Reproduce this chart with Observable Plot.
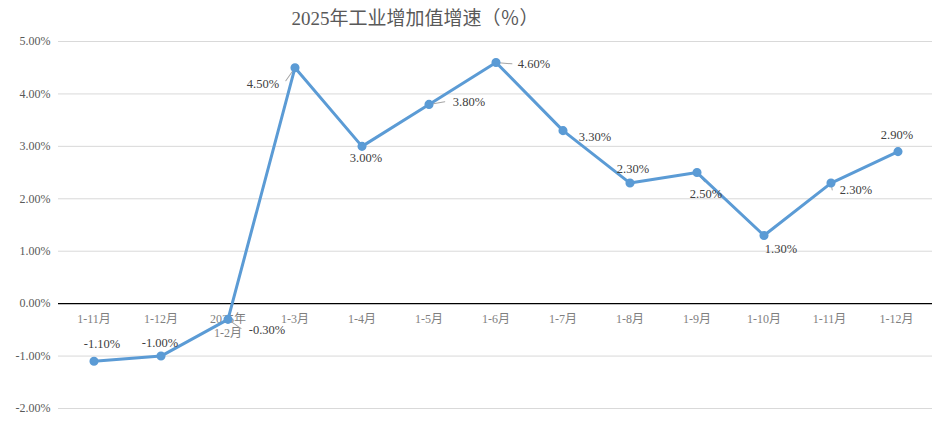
<!DOCTYPE html>
<html>
<head>
<meta charset="utf-8">
<script src="https://cdn.jsdelivr.net/npm/d3@7"></script>
<script src="https://cdn.jsdelivr.net/npm/@observablehq/plot@0.6"></script>
<style>
  body { margin: 0; background: #fff; }
  #wrap { position: relative; width: 932px; }
  #title { height: 30px; line-height: 30px; font-family: "Liberation Serif", "Noto Sans CJK SC", serif; font-size: 19px; color: #595959; position: relative; }
  #title span { position: absolute; left: 415px; transform: translateX(-50%); top: 4px; white-space: nowrap; }
</style>
</head>
<body>
<div id="wrap">
  <div id="title"><span>2025年工业增加值增速（％）</span></div>
  <div id="chart"></div>
</div>
<script>
// ---- data ----
const categories = ["1-11月", "1-12月", "2025年\n1-2月", "1-3月", "1-4月", "1-5月", "1-6月", "1-7月", "1-8月", "1-9月", "1-10月", "1-11月 ", "1-12月 "];
const values = [-1.10, -1.00, -0.30, 4.50, 3.00, 3.80, 4.60, 3.30, 2.30, 2.50, 1.30, 2.30, 2.90];
const yTicks = [-2, -1, 0, 1, 2, 3, 4, 5];

// label placement (style only): [dx, dy] in pixels
const labelNudge = [[8,-17],[-1,-13],[39,11],[-32,16],[4,12],[40,-2],[38,2],[32,6],[3,-14],[9,21],[17,14],[25,7],[-1,-17]];
// leader lines (style only): [index, rotate deg, length px]
const leaders = [[2,125,16],[3,215,16],[5,80,16],[6,95,16],[7,125,10],[9,140,12],[11,170,7]];

const data = categories.map((c, i) => ({cat: c, v: values[i], i}));
const fmt = d => d.toFixed(2) + "%";
const serif = "'Liberation Serif', 'Noto Sans CJK SC', serif";

const marks = [
  Plot.ruleY(yTicks.filter(t => t !== 0), {stroke: "#d9d9d9", strokeWidth: 1}),
  Plot.ruleY([0], {stroke: "#000", strokeWidth: 1.3}),
  Plot.axisY({ticks: yTicks, tickSize: 0, tickPadding: 8, tickFormat: fmt, label: null, fill: "#595959", fontSize: 12, fontFamily: serif}),
  Plot.text(categories, {x: d => d, y: () => 0, dy: 10, lineAnchor: "top", fill: "#7f7f7f", fontSize: 12, fontFamily: serif, lineHeight: 1.15}),
  ...leaders.map(([i, r, l]) => Plot.vector([data[i]], {x: "cat", y: "v", rotate: r, length: l, anchor: "start", stroke: "#a6a6a6", strokeWidth: 1,
      shape: {draw(ctx, len) { ctx.moveTo(0, 0); ctx.lineTo(0, -len); }}})),
  Plot.line(data, {x: "cat", y: "v", stroke: "#5b9bd5", strokeWidth: 3}),
  Plot.dot(data, {x: "cat", y: "v", r: 3.8, fill: "#5b9bd5", stroke: "#5b9bd5"}),
  ...data.map((d, i) => Plot.text([d], {x: "cat", y: "v", text: e => fmt(e.v), dx: labelNudge[i][0], dy: labelNudge[i][1], fill: "#404040", fontSize: 12.5, fontFamily: serif}))
];

const chart = Plot.plot({
  width: 932,
  height: 391,
  marginLeft: 58,
  marginRight: 0,
  marginTop: 11,
  marginBottom: 13,
  x: {type: "band", domain: categories, padding: 0, axis: null},
  y: {domain: [-2, 5], axis: null},
  style: {fontFamily: serif, background: "#fff"},
  marks
});
document.getElementById("chart").appendChild(chart);
</script>
</body>
</html>
